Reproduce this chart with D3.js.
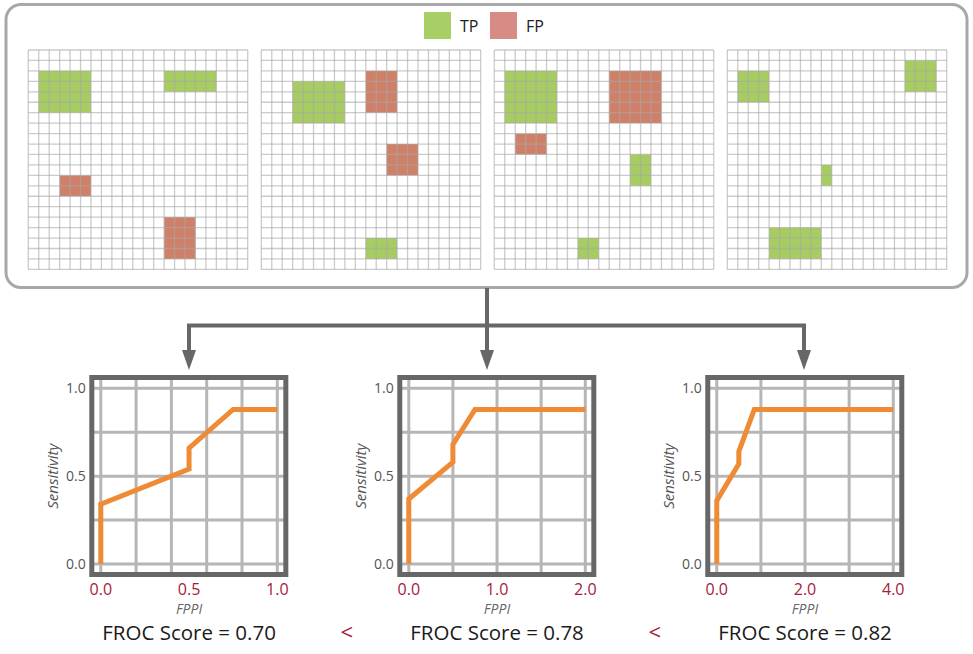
<!DOCTYPE html>
<html>
<head>
<meta charset="utf-8">
<script src="https://cdn.jsdelivr.net/npm/d3@7"></script>
<style>
  body { margin: 0; background: #fff; }
  svg { display: block; font-family: "Open Sans", "Noto Sans", sans-serif; }
</style>
</head>
<body>
<div id="chart"></div>
<script>
// detection boxes per image: [col, row, width, height] in grid cells
const tpBoxes = [
  [[1, 2, 5, 4], [13, 2, 5, 2]],
  [[3, 3, 5, 4], [10, 18, 3, 2]],
  [[1, 2, 5, 5], [13, 10, 2, 3], [8, 18, 2, 2]],
  [[1, 2, 3, 3], [17, 1, 3, 3], [9, 11, 1, 2], [4, 17, 5, 3]],
];
const fpBoxes = [
  [[3, 12, 3, 2], [13, 16, 3, 4]],
  [[10, 2, 3, 4], [12, 9, 3, 3]],
  [[11, 2, 5, 5], [2, 8, 3, 2]],
  [],
];
const gridCells = 21;
const legendKeys = ["TP", "FP"];

// FROC curves
const fppiMax = [1, 2, 4];
const fppi = [
  [0, 0, 0.5, 0.5, 0.75, 1.0],
  [0, 0, 0.5, 0.5, 0.75, 2.0],
  [0, 0, 0.5, 0.5, 0.85, 4.0],
];
const sensitivity = [
  [0, 0.34, 0.54, 0.66, 0.88, 0.88],
  [0, 0.37, 0.58, 0.68, 0.88, 0.88],
  [0, 0.36, 0.57, 0.64, 0.88, 0.88],
];
const scores = ["0.70", "0.78", "0.82"];
const yTicks = [0, 0.5, 1.0];
const yGrid = [0, 0.25, 0.5, 0.75, 1.0];

const w = 973;
const h = 654;
const green = "#a6cc62";
const red = "#cf8068";
const darkRed = "#a3213a";

const svg = d3
  .select("#chart")
  .append("svg")
  .attr("width", w)
  .attr("height", h);

// ---- top box with images ----
svg
  .append("rect")
  .attr("x", 6)
  .attr("y", 4.5)
  .attr("width", 961)
  .attr("height", 283)
  .attr("rx", 15)
  .attr("fill", "#fff")
  .attr("stroke", "#a8a8a8")
  .attr("stroke-width", 3);

// legend
const legendColors = { TP: "#a8cf65", FP: "#d78b85" };
const legendX = d3.scalePoint().domain(legendKeys).range([424, 490]);
const legend = svg.selectAll(".legend").data(legendKeys).enter().append("g")
  .attr("transform", (d) => `translate(${legendX(d)},12)`);
legend.append("rect")
  .attr("width", 27)
  .attr("height", 27)
  .attr("fill", (d) => legendColors[d]);
legend.append("text")
  .attr("x", 36)
  .attr("y", 20)
  .attr("font-size", 16)
  .attr("fill", "#222")
  .text((d) => d);

const panelX = d3.scaleBand().domain(d3.range(4)).range([28.3, 946.7]).paddingInner(0.0584);
const cell = d3.scaleLinear().domain([0, gridCells]).range([0, panelX.bandwidth()]);
const gridTop = 50;

d3.range(4).forEach((p) => {
  const g = svg.append("g").attr("transform", `translate(${panelX(p)},${gridTop})`);
  g.selectAll(".tp").data(tpBoxes[p]).enter().append("rect")
    .attr("x", (d) => cell(d[0]))
    .attr("y", (d) => cell(d[1]))
    .attr("width", (d) => cell(d[2]))
    .attr("height", (d) => cell(d[3]))
    .attr("fill", green);
  g.selectAll(".fp").data(fpBoxes[p]).enter().append("rect")
    .attr("x", (d) => cell(d[0]))
    .attr("y", (d) => cell(d[1]))
    .attr("width", (d) => cell(d[2]))
    .attr("height", (d) => cell(d[3]))
    .attr("fill", red);
  const lines = d3.range(gridCells + 1);
  g.selectAll(".vl").data(lines).enter().append("line")
    .attr("x1", (d) => cell(d)).attr("x2", (d) => cell(d))
    .attr("y1", 0).attr("y2", cell(gridCells))
    .attr("stroke", "#a9a9a9").attr("stroke-opacity", 0.6).attr("stroke-width", 1.3);
  g.selectAll(".hl").data(lines).enter().append("line")
    .attr("y1", (d) => cell(d)).attr("y2", (d) => cell(d))
    .attr("x1", 0).attr("x2", cell(gridCells))
    .attr("stroke", "#a9a9a9").attr("stroke-opacity", 0.6).attr("stroke-width", 1.3);
});

// ---- connectors ----
const conn = svg.append("g").attr("stroke", "#676767").attr("stroke-width", 4).attr("fill", "none");
const arrowX = [189, 487, 804];
conn.append("line").attr("x1", 487).attr("x2", 487).attr("y1", 288).attr("y2", 325.5);
conn.append("line").attr("x1", arrowX[0] - 2).attr("x2", arrowX[2] + 2).attr("y1", 325.5).attr("y2", 325.5);
arrowX.forEach((x) => {
  conn.append("line").attr("x1", x).attr("x2", x).attr("y1", 325.5).attr("y2", 355);
  svg.append("path")
    .attr("d", `M${x - 7},350 L${x + 7},350 L${x},370 Z`)
    .attr("fill", "#676767");
});

// ---- FROC plots ----
const frameX = d3.scaleBand().domain(d3.range(3)).range([91.8, 901.8]).paddingInner(0.37);
const frameW = frameX.bandwidth();
const frameTop = 377.5;
const frameH = 197;
const y = d3.scaleLinear().domain([0, 1]).range([564, 388.3]);

d3.range(3).forEach((p) => {
  const L = frameX(p);
  const x = d3.scaleLinear().domain([0, fppiMax[p]]).range([L + 9, L + 185.5]);
  const g = svg.append("g");

  g.append("rect").attr("x", L).attr("y", frameTop).attr("width", frameW).attr("height", frameH)
    .attr("fill", "#fff");

  const xGrid = x.ticks(4);
  g.selectAll(".gx").data(xGrid).enter().append("line")
    .attr("x1", (d) => x(d)).attr("x2", (d) => x(d))
    .attr("y1", frameTop).attr("y2", frameTop + frameH)
    .attr("stroke", "#b6b6b6").attr("stroke-width", 3);
  g.selectAll(".gy").data(yGrid).enter().append("line")
    .attr("y1", (d) => y(d)).attr("y2", (d) => y(d))
    .attr("x1", L).attr("x2", L + frameW)
    .attr("stroke", "#b6b6b6").attr("stroke-width", 3);

  const pts = fppi[p].map((v, i) => [v, sensitivity[p][i]]);
  g.append("path")
    .datum(pts)
    .attr("d", d3.line().x((d) => x(d[0])).y((d) => y(d[1])))
    .attr("fill", "none")
    .attr("stroke", "#ef8a35")
    .attr("stroke-width", 5)
    .attr("stroke-linejoin", "miter");

  g.append("rect").attr("x", L).attr("y", frameTop).attr("width", frameW).attr("height", frameH)
    .attr("fill", "none").attr("stroke", "#676767").attr("stroke-width", 5);

  // y tick labels
  g.selectAll(".yt").data(yTicks).enter().append("text")
    .attr("x", L - 6)
    .attr("y", (d) => y(d))
    .attr("dy", "0.35em")
    .attr("text-anchor", "end")
    .attr("font-size", 14)
    .attr("fill", "#555")
    .text((d) => d.toFixed(1));

  // x tick labels
  const xt = [0, fppiMax[p] / 2, fppiMax[p]];
  g.selectAll(".xt").data(xt).enter().append("text")
    .attr("x", (d) => x(d))
    .attr("y", 595)
    .attr("text-anchor", "middle")
    .attr("font-size", 16)
    .attr("fill", darkRed)
    .text((d) => d.toFixed(1));

  g.append("text")
    .attr("x", x(fppiMax[p] / 2))
    .attr("y", 614)
    .attr("text-anchor", "middle")
    .attr("font-size", 14)
    .attr("font-style", "italic")
    .attr("fill", "#666")
    .text("FPPI");

  g.append("text")
    .attr("transform", `translate(${L - 34},${y(0.5)}) rotate(-90)`)
    .attr("text-anchor", "middle")
    .attr("font-size", 15)
    .attr("font-style", "italic")
    .attr("fill", "#555")
    .text("Sensitivity");

  g.append("text")
    .attr("x", x(fppiMax[p] / 2))
    .attr("y", 640)
    .attr("text-anchor", "middle")
    .attr("font-size", 20.5)
    .attr("fill", "#1a1a1a")
    .text(`FROC Score = ${scores[p]}`);

  if (p > 0) {
    g.append("text")
      .attr("x", (frameX(p - 1) + frameW + L) / 2 + 4)
      .attr("y", 640)
      .attr("text-anchor", "middle")
      .attr("font-size", 22)
      .attr("fill", darkRed)
      .text("<");
  }
});
</script>
</body>
</html>
